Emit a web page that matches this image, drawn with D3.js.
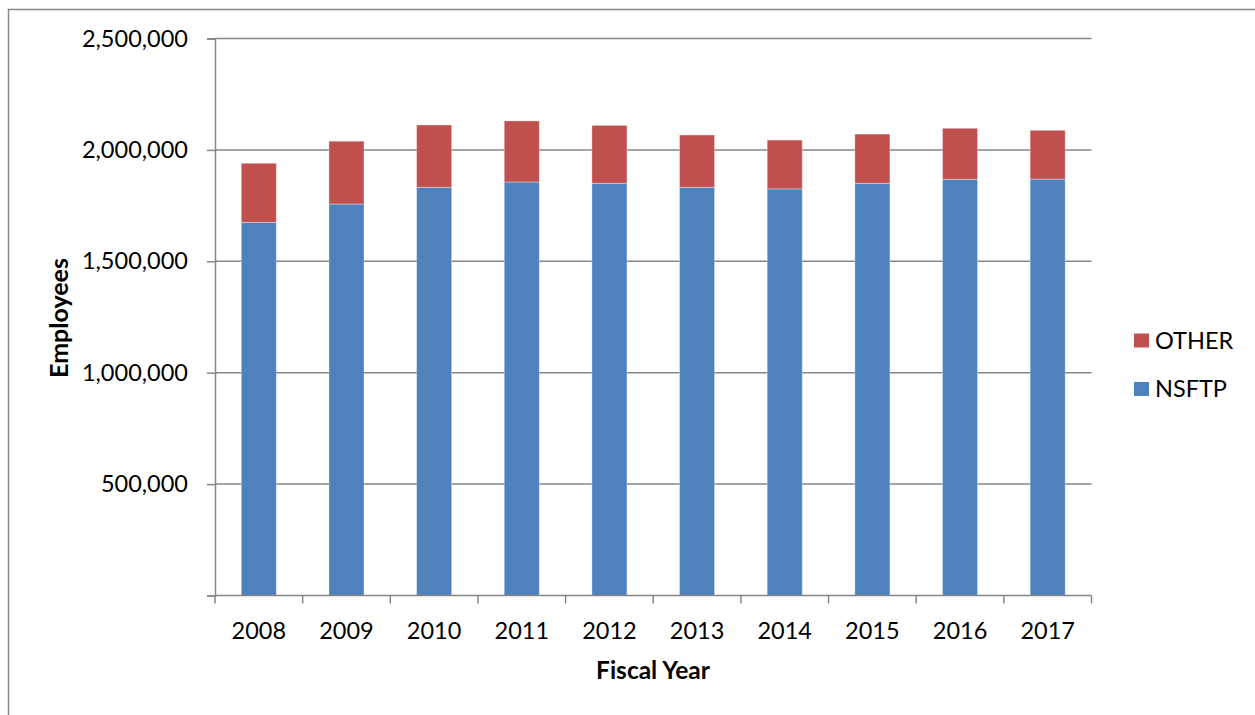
<!DOCTYPE html>
<html>
<head>
<meta charset="utf-8">
<script src="https://cdn.jsdelivr.net/npm/d3@7"></script>
<style>
  html, body { margin: 0; padding: 0; background: #fff; }
  svg { display: block; }
  text { font-family: Lato, "Open Sans", sans-serif; fill: #000; }
</style>
</head>
<body>
<script>
const years = ["2008","2009","2010","2011","2012","2013","2014","2015","2016","2017"];
const nsftp = [1675000, 1757000, 1832000, 1856000, 1850000, 1832000, 1825000, 1850000, 1868000, 1869000];
const other = [265000, 282000, 280000, 274000, 260000, 235000, 219000, 221000, 229000, 219000];
const yTicks = [0, 500000, 1000000, 1500000, 2000000, 2500000];
const seriesNames = ["NSFTP", "OTHER"];
const seriesColors = ["#4F81BD", "#C0504D"];

const W = 1255, H = 715;
const margin = { left: 215, right: W - 1091.5, top: 38.5, bottom: H - 595.5 };

const svg = d3.select("body").append("svg").attr("width", W).attr("height", H);

// outer border
svg.append("rect").attr("x", 8.5).attr("y", 9.5).attr("width", 1260).attr("height", 720)
  .attr("fill", "none").attr("stroke", "#868686").attr("stroke-width", 1.5);

const x = d3.scaleBand().domain(years).range([margin.left, W - margin.right]).paddingInner(0.6).paddingOuter(0.3);
const y = d3.scaleLinear().domain([0, 2500000]).range([H - margin.bottom, margin.top]);

const fmt = d3.format(",");

// gridlines + y axis
const yAxis = d3.axisLeft(y).tickValues(yTicks).tickFormat(fmt).tickSize(8).tickPadding(19);
const gy = svg.append("g").attr("transform", `translate(${margin.left},0)`).call(yAxis);
gy.select(".domain").attr("stroke", "#868686").attr("stroke-width", 1.5);
gy.selectAll(".tick line").attr("stroke", "#868686").attr("stroke-width", 1.5);
gy.selectAll(".tick text").style("font-size", "23.5px").attr("fill", "#000");
gy.selectAll(".tick").filter(d => d === 0).select("text").remove();

svg.append("g").selectAll("line").data(yTicks.filter(d => d > 0)).join("line")
  .attr("x1", margin.left).attr("x2", W - margin.right)
  .attr("y1", d => y(d)).attr("y2", d => y(d))
  .attr("stroke", "#868686").attr("stroke-width", 1.5);

// stacked bars
const table = years.map((yr, i) => ({ year: yr, NSFTP: nsftp[i], OTHER: other[i] }));
const stack = d3.stack().keys(seriesNames)(table);
svg.append("g").selectAll("g").data(stack).join("g")
  .attr("fill", (d, i) => seriesColors[i])
  .selectAll("rect").data(d => d).join("rect")
  .attr("x", d => x(d.data.year))
  .attr("width", x.bandwidth())
  .attr("y", d => y(d[1]))
  .attr("height", d => y(d[0]) - y(d[1]))
  .attr("stroke", "rgba(255,255,255,0.35)").attr("stroke-width", 1);

// x axis
const xTickScale = d3.scaleLinear().domain([0, years.length]).range([margin.left, W - margin.right]);
const gx = svg.append("g").attr("transform", `translate(0,${H - margin.bottom})`);
gx.append("line").attr("x1", margin.left).attr("x2", W - margin.right)
  .attr("stroke", "#868686").attr("stroke-width", 1.5);
gx.selectAll("line.tk").data(d3.range(years.length + 1)).join("line").attr("class", "tk")
  .attr("x1", d => xTickScale(d)).attr("x2", d => xTickScale(d))
  .attr("y1", 0).attr("y2", 8).attr("stroke", "#868686").attr("stroke-width", 1.5);
gx.selectAll("text").data(years).join("text")
  .attr("x", d => x(d) + x.bandwidth() / 2).attr("y", 43)
  .attr("text-anchor", "middle").style("font-size", "23.5px").text(d => d);

// axis titles
svg.append("text").attr("x", 653).attr("y", 679).attr("text-anchor", "middle")
  .style("font-size", "24.5px").style("font-weight", "bold").text("Fiscal Year");
svg.append("text").attr("transform", `translate(68,318) rotate(-90)`).attr("text-anchor", "middle")
  .style("font-size", "25px").style("font-weight", "bold").text("Employees");

// legend (OTHER on top)
const legendItems = [{ name: "OTHER", color: seriesColors[1], cy: 340.5 }, { name: "NSFTP", color: seriesColors[0], cy: 389 }];
const lg = svg.append("g");
legendItems.forEach(it => {
  lg.append("rect").attr("x", 1134).attr("y", it.cy - 7).attr("width", 15).attr("height", 14).attr("fill", it.color);
  lg.append("text").attr("x", 1155).attr("y", it.cy + 8).style("font-size", "23.5px").text(it.name);
});
</script>
</body>
</html>
